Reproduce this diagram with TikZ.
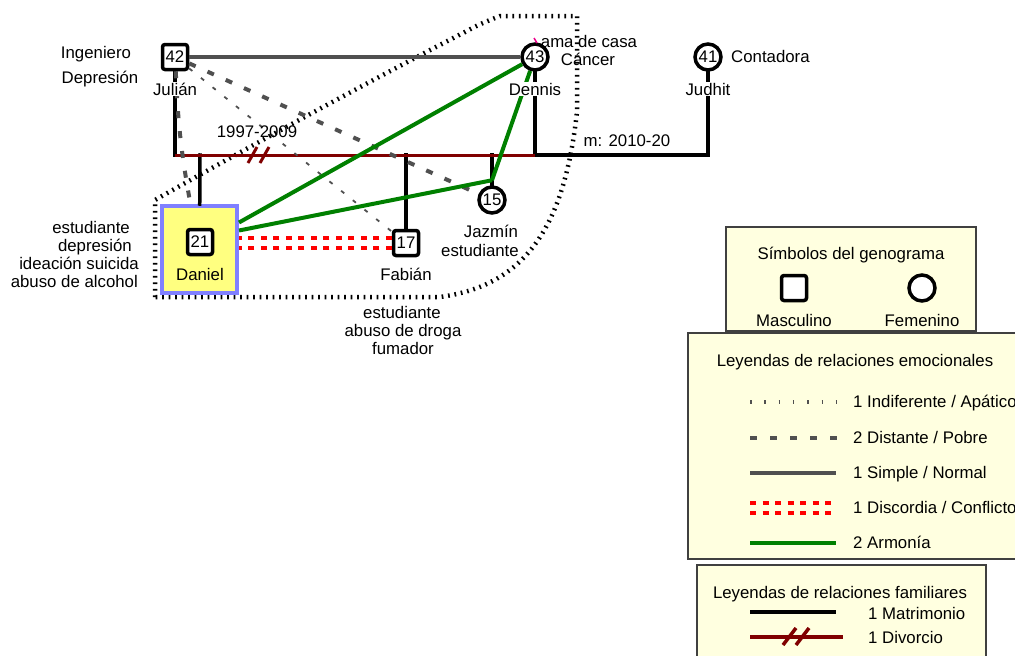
\documentclass[tikz,border=0pt]{standalone}
\usepackage{fontspec}
\setmainfont{Liberation Sans}
\definecolor{divred}{RGB}{128,0,0}
\definecolor{harmgreen}{RGB}{0,128,0}
\definecolor{simplegray}{RGB}{80,80,80}
\definecolor{legfill}{RGB}{255,255,224}
\definecolor{danfill}{RGB}{255,255,128}
\definecolor{danblue}{RGB}{128,128,255}
\tikzset{
  male/.style={draw, line width=3.5pt, rounded corners=2.5pt, fill=white, minimum size=25pt, inner sep=0pt},
  female/.style={circle, draw, line width=3.5pt, fill=white, minimum size=26pt, inner sep=0pt},
  lbl/.style={inner sep=0pt},
  namelbl/.style={fill=white, inner sep=1pt, anchor=base},
  marr/.style={line width=3.5pt, line cap=rect},
  divorce/.style={divred, line width=3pt},
  simple/.style={simplegray, line width=4pt},
  harmony/.style={harmgreen, line width=4pt},
  distant/.style={simplegray, line width=4pt, dash pattern=on 7pt off 13pt},
  conflict/.style={red, line width=4pt, dash pattern=on 6pt off 6.5pt},
  indiff/.style={simplegray, line width=1.8pt, dash pattern=on 4pt off 11pt},
  indiffleg/.style={simplegray, line width=4pt, dash pattern=on 1.5pt off 12.8pt},
  household/.style={line width=4.5pt, dash pattern=on 1.7pt off 4.8pt},
  legbox/.style={draw=black!75, line width=1.5pt, fill=legfill}
}

\begin{document}
\begin{tikzpicture}[x=1pt, y=-1pt, font=\fontsize{16.8}{19}\selectfont]
    \useasboundingbox (0,0) rectangle (1015,656);
    \clip (0,0) rectangle (1015,656);

    % hogar
    \draw[household] (155,297) -- (155,200) .. controls (300,118) and (420,55) .. (465,32)
        .. controls (480,24) .. (500,16) -- (577,16) -- (577,112)
        .. controls (565,220) and (530,285) .. (440,297) -- cycle;

    \node[male] at (175,57) (julian) {42};
    \node[female] at (535,57) (dennis) {43};
    \node[female] at (708,57) (judhit) {41};
    \node[draw=danblue, fill=danfill, line width=4pt, minimum width=75pt, minimum height=87pt] at (199.5,249.5) (danielbox) {};
    \node[male] at (200,242) (daniel) {21};
    \node[male] at (406,243) (fabian) {17};
    \node[female] at (492,200) (jazmin) {15};

    \coordinate (jd) at (175,155);
    \coordinate (dd) at (535,155);
    \coordinate (hd) at (708,155);
    \coordinate (k1) at (200,155);
    \coordinate (k2) at (406,155);
    \coordinate (k3) at (492,155);

    \draw[marr] (julian) -- (jd);
    \draw[marr] (dennis) -- (dd);
    \draw[marr] (judhit) -- (hd);
    \draw[marr] (dd) -- (hd);
    \draw[marr] (k1) -- (danielbox);
    \draw[marr] (k2) -- (fabian);
    \draw[marr] (k3) -- (jazmin);
    \draw[divorce] (jd) -- (dd);
    \draw[divorce] (248,163) -- ++(9,-16);
    \draw[divorce] (260,163) -- ++(9,-16);

    \draw[simple] (julian) -- (dennis);
    \draw[distant] (julian) to[bend right=4] (danielbox);
    \draw[distant] (julian) -- (jazmin);
    \draw[indiff] (julian) -- (fabian);
    \draw[harmony] ([yshift=27pt]danielbox.east) -- (dennis);
    \draw[harmony] ([yshift=19pt]danielbox.east) -- ([yshift=5pt]jazmin.north);
    \draw[harmony] ([yshift=5pt]jazmin.north) -- (dennis);
    \draw[conflict] ([yshift=5pt]fabian.west) -- ([yshift=5pt]fabian.west -| danielbox.east);
    \draw[conflict] ([yshift=-5pt]fabian.west) -- ([yshift=-5pt]fabian.west -| danielbox.east);
    \draw[magenta, line width=1.5pt] (534,38) -- (537,43);

    \node[namelbl] at (175,95) (namejul) {Julián};
    \node[namelbl] at (535,95) (namedennis) {Dennis};
    \node[namelbl] at (708,95) (namejudhit) {Judhit};
    \node[lbl, anchor=base] at (96,58) (occjul) {Ingeniero};
    \node[lbl, anchor=base] at (100,83) (diagjul) {Depresión};
    \node[lbl, anchor=base] at (589,47) (occdennis) {ama de casa};
    \node[lbl, anchor=base] at (588,65) (diagdennis) {Cáncer};
    \node[lbl, anchor=base west] at (731,62) (occjudhit) {Contadora};
    \node[lbl, anchor=base] at (257,137) (yrsdiv) {1997-2009};
    \node[lbl, anchor=base] at (627,146) (yrsmarr) {m: 2010-20};
    \node[lbl, anchor=base] at (200,280) (namedaniel) {Daniel};
    \node[lbl, anchor=base east] at (130,233) (dan1) {estudiante};
    \node[lbl, anchor=base east] at (132,251) (dan2) {depresión};
    \node[lbl, anchor=base east] at (139,269) (dan3) {ideación suicida};
    \node[lbl, anchor=base east] at (138,287) (dan4) {abuso de alcohol};
    \node[lbl, anchor=base] at (406,280) (namefabian) {Fabián};
    \node[lbl, anchor=base] at (402,318) (fab1) {estudiante};
    \node[lbl, anchor=base] at (403,336) (fab2) {abuso de droga};
    \node[lbl, anchor=base] at (403,354) (fab3) {fumador};
    \node[lbl, anchor=base] at (491,237) (namejazmin) {Jazmín};
    \node[lbl, anchor=base] at (480,256) (jaz1) {estudiante};

    % leyendas
    \draw[legbox] (726,227) rectangle (976,331);
    \node[lbl, anchor=base] at (851,259) (symtitle) {Símbolos del genograma};
    \node[male] at (794,288) (legm) {};
    \node[female] at (922,288) (legf) {};
    \node[lbl, anchor=base] at (794,326) (legmlbl) {Masculino};
    \node[lbl, anchor=base] at (922,326) (legflbl) {Femenino};

    \draw[legbox] (688,333) rectangle (1030,559);
    \node[lbl, anchor=base] at (855,366) (emotitle) {Leyendas de relaciones emocionales};
    \draw[indiffleg] (750,402) -- (838,402);
    \draw[distant] (750,438) -- (838,438);
    \draw[simple] (750,473) -- (836,473);
    \draw[conflict] (750,503) -- (836,503);
    \draw[conflict] (750,513) -- (836,513);
    \draw[harmony] (750,543) -- (836,543);
    \node[lbl, anchor=base west] at (853,407) (emo1) {1 Indiferente / Apático};
    \node[lbl, anchor=base west] at (853,443) (emo2) {2 Distante / Pobre};
    \node[lbl, anchor=base west] at (853,478) (emo3) {1 Simple / Normal};
    \node[lbl, anchor=base west] at (853,513) (emo4) {1 Discordia / Conflicto};
    \node[lbl, anchor=base west] at (853,548) (emo5) {2 Armonía};

    \draw[legbox] (697,565) rectangle (986,670);
    \node[lbl, anchor=base] at (840,598) (famtitle) {Leyendas de relaciones familiares};
    \draw[marr, line cap=butt] (750,612) -- (836,612);
    \draw[divorce, line width=3.5pt] (750,637) -- (843,637);
    \draw[divorce, line width=3.5pt] (783,645) -- ++(13,-17);
    \draw[divorce, line width=3.5pt] (796,645) -- ++(13,-17);
    \node[lbl, anchor=base west] at (868,619) (fam1) {1 Matrimonio};
    \node[lbl, anchor=base west] at (868,643) (fam2) {1 Divorcio};
\end{tikzpicture}
\end{document}
